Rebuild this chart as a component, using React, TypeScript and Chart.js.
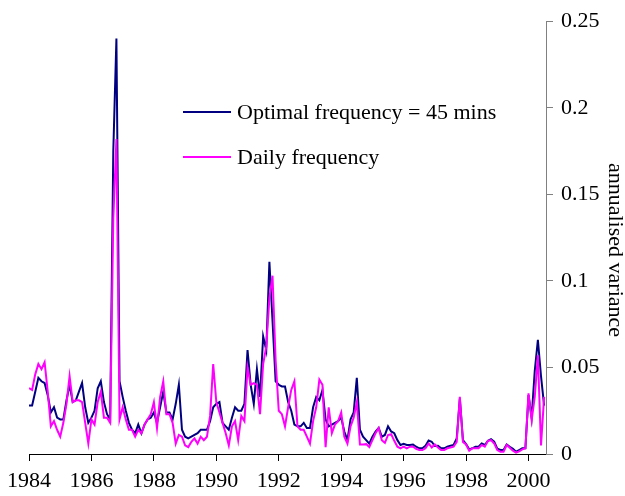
import React, { useEffect, useRef } from "react";
import { Chart, registerables } from "chart.js";

Chart.register(...registerables);

// ---- data ----
const startYear = 1984;
const stepYear = 0.1;

const optimal45: number[] = [
  0.028, 0.028, 0.036, 0.044, 0.042, 0.041, 0.034, 0.024, 0.027, 0.021,
  0.020, 0.020, 0.031, 0.040, 0.030, 0.031, 0.036, 0.041, 0.027, 0.018,
  0.021, 0.025, 0.038, 0.042, 0.030, 0.023, 0.020, 0.175, 0.240, 0.042,
  0.033, 0.025, 0.018, 0.014, 0.012, 0.017, 0.012, 0.017, 0.020, 0.021,
  0.024, 0.018, 0.027, 0.036, 0.024, 0.024, 0.020, 0.029, 0.040, 0.014,
  0.010, 0.009, 0.010, 0.011, 0.012, 0.014, 0.014, 0.014, 0.019, 0.027,
  0.029, 0.030, 0.018, 0.016, 0.014, 0.021, 0.027, 0.025, 0.025, 0.029,
  0.060, 0.040, 0.029, 0.049, 0.033, 0.068, 0.060, 0.111, 0.077, 0.042,
  0.040, 0.039, 0.039, 0.030, 0.025, 0.017, 0.016, 0.016, 0.018, 0.015,
  0.015, 0.027, 0.033, 0.031, 0.037, 0.020, 0.016, 0.017, 0.018, 0.019,
  0.021, 0.013, 0.008, 0.020, 0.024, 0.044, 0.014, 0.010, 0.008, 0.006,
  0.010, 0.013, 0.015, 0.010, 0.011, 0.016, 0.013, 0.012, 0.008, 0.0052,
  0.0059, 0.0052, 0.0052, 0.0055, 0.0042, 0.0033, 0.0033, 0.0048, 0.0078, 0.0071,
  0.0046, 0.0048, 0.0033, 0.0033, 0.0042, 0.0048, 0.0052, 0.009, 0.032, 0.008,
  0.0057, 0.0027, 0.0033, 0.0042, 0.0042, 0.0061, 0.0052, 0.0076, 0.0086, 0.0071,
  0.0031, 0.0023, 0.0023, 0.0055, 0.0042, 0.003, 0.0013, 0.0023, 0.0033, 0.0033,
  0.034, 0.021, 0.048, 0.066, 0.045, 0.028,
];

const daily: number[] = [
  0.038, 0.037, 0.046, 0.052, 0.049, 0.053, 0.036, 0.016, 0.019, 0.014,
  0.010, 0.018, 0.029, 0.045, 0.030, 0.031, 0.031, 0.030, 0.018, 0.006,
  0.020, 0.017, 0.030, 0.036, 0.021, 0.021, 0.018, 0.136, 0.182, 0.020,
  0.027, 0.020, 0.014, 0.014, 0.010, 0.014, 0.012, 0.017, 0.020, 0.023,
  0.030, 0.015, 0.033, 0.042, 0.023, 0.023, 0.018, 0.006, 0.011, 0.010,
  0.005, 0.004, 0.007, 0.009, 0.006, 0.010, 0.008, 0.010, 0.022, 0.052,
  0.030, 0.024, 0.018, 0.012, 0.005, 0.016, 0.019, 0.008, 0.022, 0.019,
  0.050, 0.040, 0.041, 0.040, 0.023, 0.052, 0.062, 0.090, 0.103, 0.054,
  0.025, 0.023, 0.016, 0.027, 0.037, 0.042, 0.016, 0.014, 0.014, 0.010,
  0.006, 0.019, 0.027, 0.043, 0.040, 0.004, 0.027, 0.012, 0.017, 0.019,
  0.024, 0.010, 0.006, 0.016, 0.021, 0.030, 0.0055, 0.0055, 0.0057, 0.004,
  0.008, 0.012, 0.015, 0.008, 0.0065, 0.011, 0.0115, 0.0076, 0.0042, 0.0033,
  0.0042, 0.0033, 0.0042, 0.0042, 0.003, 0.0023, 0.0023, 0.0033, 0.0061, 0.0038,
  0.0055, 0.0038, 0.0023, 0.0023, 0.0033, 0.0038, 0.0042, 0.007, 0.033, 0.007,
  0.0055, 0.0019, 0.0033, 0.0033, 0.0033, 0.0052, 0.0042, 0.0076, 0.008, 0.0061,
  0.0023, 0.0013, 0.0013, 0.0052, 0.0036, 0.0019, 0.0008, 0.0015, 0.0027, 0.0033,
  0.035, 0.0195, 0.033, 0.057, 0.005, 0.033,
];

const years: number[] = optimal45.map((_, i) => +(startYear + i * stepYear).toFixed(2));

const seriesLabels = ["Optimal frequency = 45 mins", "Daily frequency"];
const seriesColors = ["#000080", "#FF00FF"];

const xTickYears = [1984, 1986, 1988, 1990, 1992, 1994, 1996, 1998, 2000];
const yTicks = [0, 0.05, 0.1, 0.15, 0.2, 0.25];
const yTickLabels = ["0", "0.05", "0.1", "0.15", "0.2", "0.25"];
const yTitle = "annualised variance";

const FONT = "'Times New Roman', 'Liberation Serif', serif";

const overlayPlugin = {
  id: "overlay",
  afterDraw(chart: any) {
    const ctx = chart.ctx as CanvasRenderingContext2D;
    ctx.save();
    ctx.font = `22px ${FONT}`;
    ctx.fillStyle = "#000";
    ctx.textAlign = "left";
    ctx.textBaseline = "alphabetic";
    const rows = [
      { lineY: 112, textY: 118.5 },
      { lineY: 157, textY: 163.5 },
    ];
    seriesLabels.forEach((label, i) => {
      const r = rows[i];
      ctx.strokeStyle = seriesColors[i];
      ctx.lineWidth = 2;
      ctx.beginPath();
      ctx.moveTo(183, r.lineY);
      ctx.lineTo(231, r.lineY);
      ctx.stroke();
      ctx.fillText(label, 237, r.textY);
    });
    // rotated y-axis title
    ctx.translate(609, 250);
    ctx.rotate(Math.PI / 2);
    ctx.textAlign = "center";
    ctx.textBaseline = "alphabetic";
    ctx.fillText(yTitle, 0, 0);
    ctx.restore();
  },
};

export default function App() {
  const ref = useRef<HTMLCanvasElement | null>(null);

  useEffect(() => {
    document.body.style.margin = "0";
    if (!ref.current) return;
    const chart = new Chart(ref.current, {
      type: "line",
      data: {
        datasets: [
          {
            label: seriesLabels[0],
            data: years.map((x, i) => ({ x, y: optimal45[i] })),
            borderColor: seriesColors[0],
            backgroundColor: seriesColors[0],
            borderWidth: 2,
            pointRadius: 0,
            tension: 0,
            order: 1,
          },
          {
            label: seriesLabels[1],
            data: years.map((x, i) => ({ x, y: daily[i] })),
            borderColor: seriesColors[1],
            backgroundColor: seriesColors[1],
            borderWidth: 2,
            pointRadius: 0,
            tension: 0,
            order: 0,
          },
        ],
      },
      options: {
        animation: false,
        responsive: false,
        devicePixelRatio: 1,
        layout: { padding: { top: 19, left: 29, right: 0, bottom: 0 } },
        plugins: {
          legend: { display: false },
          tooltip: { enabled: false },
        },
        scales: {
          x: {
            type: "linear",
            position: "bottom",
            min: 1984,
            max: 2000.56,
            afterBuildTicks: (s: any) => {
              s.ticks = xTickYears.map((v) => ({ value: v }));
            },
            afterFit: (s: any) => {
              s.height = 42;
            },
            grid: {
              display: true,
              drawOnChartArea: false,
              drawTicks: true,
              tickLength: 7,
              color: "#000",
              lineWidth: 1,
            },
            border: { display: true, color: "#000", width: 1 },
            ticks: {
              color: "#000",
              font: { size: 22, family: FONT },
              padding: 7,
              maxRotation: 0,
              autoSkip: false,
              callback: (v: any) => String(v),
            },
          },
          y: {
            type: "linear",
            position: "right",
            min: 0,
            max: 0.25,
            afterBuildTicks: (s: any) => {
              s.ticks = yTicks.map((v) => ({ value: v }));
            },
            afterFit: (s: any) => {
              s.width = 79;
            },
            grid: {
              display: true,
              drawOnChartArea: false,
              drawTicks: true,
              tickLength: 7,
              color: "#808080",
              lineWidth: 1,
            },
            border: { display: true, color: "#808080", width: 1 },
            ticks: {
              color: "#000",
              font: { size: 22, family: FONT },
              padding: 8,
              autoSkip: false,
              callback: (_v: any, i: number) => yTickLabels[i],
            },
          },
        },
      },
      plugins: [overlayPlugin],
    });
    return () => chart.destroy();
  }, []);

  return (
    <div style={{ width: 625, height: 496 }}>
      <canvas ref={ref} width={625} height={496} />
    </div>
  );
}
